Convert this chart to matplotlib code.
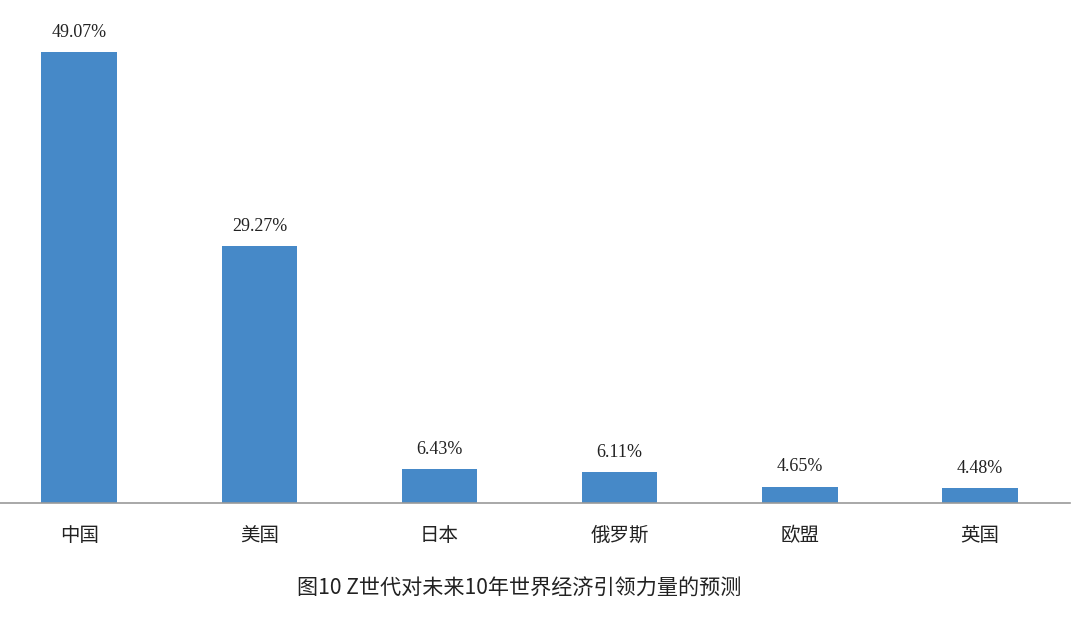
import numpy as np
import matplotlib
matplotlib.use('Agg')
import matplotlib.pyplot as plt

categories = ['中国', '美国', '日本', '俄罗斯', '欧盟', '英国']
values = [49.07, 29.27, 6.43, 6.11, 4.65, 4.48]
value_labels = ['49.07%', '29.27%', '6.43%', '6.11%', '4.65%', '4.48%']
caption = '图10 Z世代对未来10年世界经济引领力量的预测'

plt.rcParams['font.family'] = ['Noto Sans CJK SC', 'DejaVu Sans']

W, H = 1080, 619
fig = plt.figure(figsize=(W / 100, H / 100), dpi=100)
base_px = 502.7
top_px = 10
ax = fig.add_axes([0, (H - base_px) / H, 1070 / W, (base_px - top_px) / H])

x = np.arange(len(categories))
ax.bar(x, values, width=0.42, color='#4689c8', zorder=2)
ax.set_xlim(-0.44, 5.5)
ax.set_ylim(3.0, 3.0 + (base_px - top_px) / 9.785)

for xi, v, lab in zip(x, values, value_labels):
    ax.annotate(lab, (xi, v), xytext=(0, 8), textcoords='offset points',
                ha='center', va='bottom', fontsize=13, color='#222222',
                family='Liberation Serif')

ax.set_xticks(x)
ax.set_xticklabels(categories, fontsize=14, color='#222222')
ax.tick_params(axis='x', length=0, pad=16)
ax.set_yticks([])
for s in ['top', 'right', 'left']:
    ax.spines[s].set_visible(False)
ax.spines['bottom'].set_color('#9a9a9a')
ax.spines['bottom'].set_linewidth(1.2)
ax.spines['bottom'].set_zorder(3)

fig.text(519 / W, 1 - 589 / H, caption, ha='center', va='center',
         fontsize=15.2, color='#222222')

fig.savefig('out.png', dpi=100)
